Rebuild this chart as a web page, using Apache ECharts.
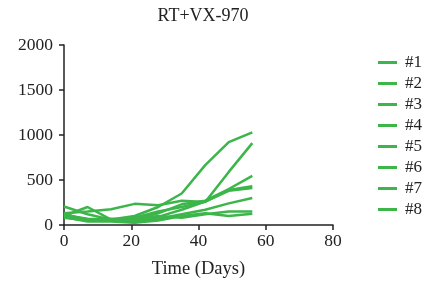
<!DOCTYPE html>
<html>
<head>
<meta charset="utf-8">
<script src="https://cdn.jsdelivr.net/npm/echarts@6/dist/echarts.min.js"></script>
<style>
  html, body { margin: 0; padding: 0; background: #fff; }
  #chart { width: 423px; height: 289px; }
</style>
</head>
<body>
<div id="chart"></div>
<script>
var days = [0, 7, 14, 21, 28, 35, 42, 49, 56];
var names = ["#1", "#2", "#3", "#4", "#5", "#6", "#7", "#8"];
var s1 = [205, 120, 60, 100, 200, 350, 665, 920, 1030];
var s2 = [130, 150, 175, 235, 220, 270, 255, 590, 910];
var s3 = [100, 200, 60, 60, 130, 230, 270, 400, 545];
var s4 = [90, 60, 50, 80, 150, 200, 260, 390, 430];
var s5 = [110, 70, 60, 40, 90, 170, 260, 380, 410];
var s6 = [80, 50, 50, 30, 70, 120, 170, 240, 300];
var s7 = [120, 60, 70, 60, 100, 80, 120, 150, 150];
var s8 = [90, 40, 40, 25, 50, 100, 130, 100, 125];
var allSeries = [s1, s2, s3, s4, s5, s6, s7, s8];

var green = "#3cb54a";
var font = "Liberation Serif";

var series = [];
for (var i = 0; i < allSeries.length; i++) {
  var pts = [];
  for (var j = 0; j < days.length; j++) {
    pts.push([days[j], allSeries[i][j]]);
  }
  series.push({
    name: names[i],
    type: "line",
    data: pts,
    showSymbol: false,
    symbol: "none",
    lineStyle: { color: green, width: 2.5 },
    itemStyle: { color: green },
    animation: false
  });
}

var myChart = echarts.init(document.getElementById("chart"));
myChart.setOption({
  backgroundColor: "#fff",
  title: {
    text: "RT+VX-970",
    left: 198,
    textAlign: "center",
    top: 2,
    textStyle: { fontFamily: font, fontSize: 18, fontWeight: "normal", color: "#222" }
  },
  legend: {
    orient: "vertical",
    left: 373,
    top: 49,
    icon: "rect",
    itemWidth: 19,
    itemHeight: 3,
    itemGap: 4,
    data: names,
    textStyle: { fontFamily: font, fontSize: 17, color: "#222", padding: [0, 0, 0, 3] }
  },
  grid: { left: 64, right: 90, top: 45, bottom: 64, containLabel: false },
  xAxis: {
    type: "value",
    min: 0,
    max: 80,
    interval: 20,
    name: "Time (Days)",
    nameLocation: "middle",
    nameGap: 35,
    nameTextStyle: { fontFamily: font, fontSize: 18.5, color: "#222" },
    axisLine: { lineStyle: { color: "#222", width: 1.5 } },
    axisTick: { show: true, length: 5, lineStyle: { color: "#222", width: 1.5 } },
    axisLabel: { fontFamily: font, fontSize: 17.5, color: "#222", margin: 7 },
    splitLine: { show: false }
  },
  yAxis: {
    type: "value",
    min: 0,
    max: 2000,
    interval: 500,
    axisLine: { show: true, lineStyle: { color: "#222", width: 1.5 } },
    axisTick: { show: true, length: 5, lineStyle: { color: "#222", width: 1.5 } },
    axisLabel: {
      fontFamily: font, fontSize: 17.5, color: "#222", margin: 11,
      formatter: function (v) { return String(v); }
    },
    splitLine: { show: false }
  },
  series: series
});
</script>
</body>
</html>
